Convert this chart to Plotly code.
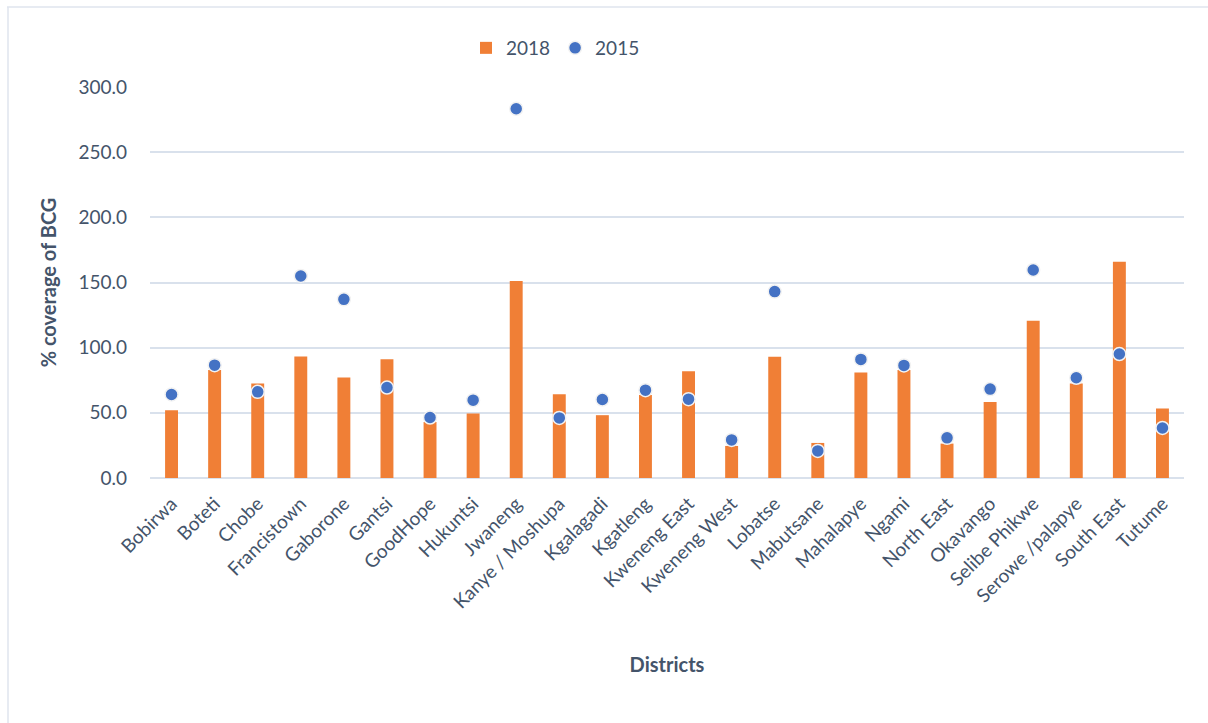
import plotly.graph_objects as go

districts = ["Bobirwa", "Boteti", "Chobe", "Francistown", "Gaborone", "Gantsi",
             "GoodHope", "Hukuntsi", "Jwaneng", "Kanye / Moshupa", "Kgalagadi",
             "Kgatleng", "Kweneng East", "Kweneng West", "Lobatse", "Mabutsane",
             "Mahalapye", "Ngami", "North East", "Okavango", "Selibe Phikwe",
             "Serowe /palapye", "South East", "Tutume"]

coverage_2018 = [52.0, 82.8, 72.5, 93.3, 77.1, 91.2, 43.0, 49.5, 151.1, 64.3, 48.2,
                 63.6, 82.0, 24.6, 93.0, 26.9, 81.0, 82.8, 26.4, 58.4, 120.7,
                 72.5, 166.0, 53.3]

coverage_2015 = [64.1, 86.6, 66.1, 155.0, 137.1, 69.4, 46.4, 59.7, 283.3, 46.1, 60.2,
                 67.4, 60.5, 29.2, 143.0, 20.8, 91.0, 86.4, 30.8, 68.2, 159.6,
                 76.9, 95.1, 38.4]

y_ticks = [0, 50, 100, 150, 200, 250, 300]

W, H = 1208, 723
ML, MR, MT, MB = 150, 24, 87, 245
TEXT = "#44546a"
FONT = "Lato"

fig = go.Figure()
fig.add_trace(go.Bar(
    x=districts, y=coverage_2018, name="2018",
    marker=dict(color="#f07f36", line=dict(width=0)),
    width=0.3,
))
fig.add_trace(go.Scatter(
    x=districts, y=coverage_2015, name="2015", mode="markers",
    marker=dict(color="#4472c4", size=13, line=dict(color="#f2f2f2", width=1.5)),
    cliponaxis=False,
))

# frame lines along the top and left edges of the chart area
def px_to_paper_x(px):
    return (px - ML) / (W - ML - MR)

def px_to_paper_y(py):
    return (H - MB - py) / (H - MT - MB)

fig.add_shape(type="line", xref="paper", yref="paper",
              x0=px_to_paper_x(7), x1=px_to_paper_x(W + 5),
              y0=px_to_paper_y(7), y1=px_to_paper_y(7),
              line=dict(color="#dfe5ee", width=1.5))
fig.add_shape(type="line", xref="paper", yref="paper",
              x0=px_to_paper_x(8), x1=px_to_paper_x(8),
              y0=px_to_paper_y(7), y1=px_to_paper_y(H + 5),
              line=dict(color="#dfe5ee", width=1.5))

fig.update_layout(
    width=W, height=H,
    margin=dict(l=ML, r=MR, t=MT, b=MB, autoexpand=False),
    paper_bgcolor="white", plot_bgcolor="white",
    font=dict(family=FONT, color=TEXT, size=17),
    bargap=0.7,
    showlegend=True,
    legend=dict(orientation="h", x=px_to_paper_x(466), y=px_to_paper_y(29),
                xanchor="left", yanchor="top",
                font=dict(family=FONT, size=19, color=TEXT),
                itemwidth=30, traceorder="normal", bgcolor="rgba(0,0,0,0)"),
    xaxis=dict(
        range=[-0.5, len(districts) - 0.5],
        tickangle=-45, tickfont=dict(size=19, color=TEXT),
        showgrid=False, showline=False, ticks="", ticklabelstandoff=10,
        title=dict(text="<b>Districts</b>", font=dict(size=20, color=TEXT), standoff=46),
    ),
    yaxis=dict(
        range=[0, 300], tickvals=y_ticks,
        ticktext=[f"{v:.1f}" for v in y_ticks],
        tickfont=dict(size=19, color=TEXT),
        showgrid=True, gridcolor="#d9e1ec", gridwidth=1.5,
        zeroline=True, zerolinecolor="#d9e1ec", zerolinewidth=1.5,
        showline=False, ticks="", ticklabelstandoff=22,
        title=dict(text="<b>% coverage of BCG</b>", font=dict(size=20, color=TEXT), standoff=16),
    ),
)

fig.write_html("out.html")
